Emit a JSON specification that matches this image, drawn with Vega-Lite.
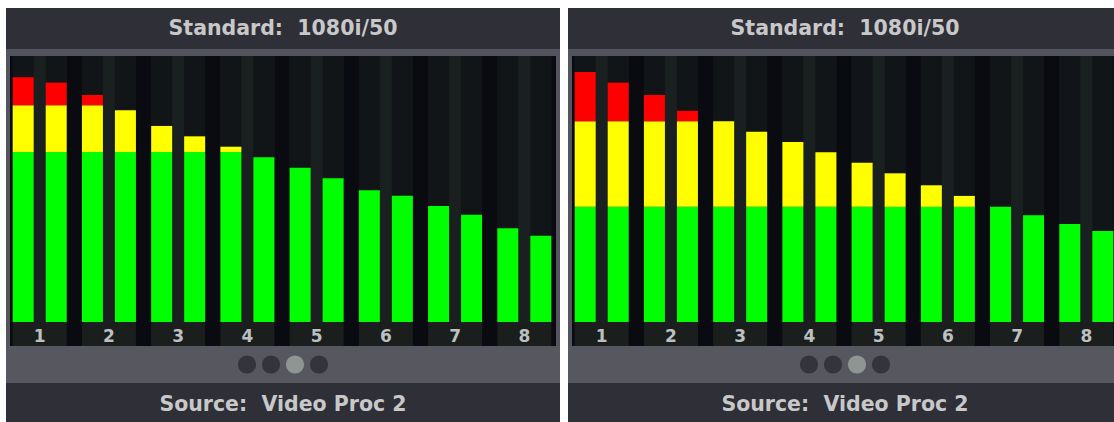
{
  "$schema": "https://vega.github.io/schema/vega-lite/v6.json",
  "background": "#ffffff",
  "padding": {"left": 6, "top": 8, "right": 0, "bottom": 0},
  "config": {"view": {"stroke": null}},
  "datasets": {
    "chans": [{"ch":1},{"ch":2},{"ch":3},{"ch":4},{"ch":5},{"ch":6},{"ch":7},{"ch":8}],
    "cols": [
      {"ch":1,"side":"L"},{"ch":1,"side":"R"},{"ch":2,"side":"L"},{"ch":2,"side":"R"},
      {"ch":3,"side":"L"},{"ch":3,"side":"R"},{"ch":4,"side":"L"},{"ch":4,"side":"R"},
      {"ch":5,"side":"L"},{"ch":5,"side":"R"},{"ch":6,"side":"L"},{"ch":6,"side":"R"},
      {"ch":7,"side":"L"},{"ch":7,"side":"R"},{"ch":8,"side":"L"},{"ch":8,"side":"R"}
    ],
    "segA": [
      {"ch":1,"side":"L","zone":"green","from":0,"to":63.9},{"ch":1,"side":"L","zone":"yellow","from":63.9,"to":81.5},{"ch":1,"side":"L","zone":"red","from":81.5,"to":92.0},
      {"ch":1,"side":"R","zone":"green","from":0,"to":63.9},{"ch":1,"side":"R","zone":"yellow","from":63.9,"to":81.5},{"ch":1,"side":"R","zone":"red","from":81.5,"to":90.0},
      {"ch":2,"side":"L","zone":"green","from":0,"to":63.9},{"ch":2,"side":"L","zone":"yellow","from":63.9,"to":81.5},{"ch":2,"side":"L","zone":"red","from":81.5,"to":85.3},
      {"ch":2,"side":"R","zone":"green","from":0,"to":63.9},{"ch":2,"side":"R","zone":"yellow","from":63.9,"to":79.6},
      {"ch":3,"side":"L","zone":"green","from":0,"to":63.9},{"ch":3,"side":"L","zone":"yellow","from":63.9,"to":73.7},
      {"ch":3,"side":"R","zone":"green","from":0,"to":63.9},{"ch":3,"side":"R","zone":"yellow","from":63.9,"to":69.8},
      {"ch":4,"side":"L","zone":"green","from":0,"to":63.9},{"ch":4,"side":"L","zone":"yellow","from":63.9,"to":65.9},
      {"ch":4,"side":"R","zone":"green","from":0,"to":61.9},
      {"ch":5,"side":"L","zone":"green","from":0,"to":58.0},
      {"ch":5,"side":"R","zone":"green","from":0,"to":54.0},
      {"ch":6,"side":"L","zone":"green","from":0,"to":49.5},
      {"ch":6,"side":"R","zone":"green","from":0,"to":47.5},
      {"ch":7,"side":"L","zone":"green","from":0,"to":43.6},
      {"ch":7,"side":"R","zone":"green","from":0,"to":40.3},
      {"ch":8,"side":"L","zone":"green","from":0,"to":35.2},
      {"ch":8,"side":"R","zone":"green","from":0,"to":32.4}
    ],
    "segB": [
      {"ch":1,"side":"L","zone":"green","from":0,"to":43.3},{"ch":1,"side":"L","zone":"yellow","from":43.3,"to":75.5},{"ch":1,"side":"L","zone":"red","from":75.5,"to":94.0},
      {"ch":1,"side":"R","zone":"green","from":0,"to":43.3},{"ch":1,"side":"R","zone":"yellow","from":43.3,"to":75.5},{"ch":1,"side":"R","zone":"red","from":75.5,"to":90.0},
      {"ch":2,"side":"L","zone":"green","from":0,"to":43.3},{"ch":2,"side":"L","zone":"yellow","from":43.3,"to":75.5},{"ch":2,"side":"L","zone":"red","from":75.5,"to":85.3},
      {"ch":2,"side":"R","zone":"green","from":0,"to":43.3},{"ch":2,"side":"R","zone":"yellow","from":43.3,"to":75.5},{"ch":2,"side":"R","zone":"red","from":75.5,"to":79.4},
      {"ch":3,"side":"L","zone":"green","from":0,"to":43.3},{"ch":3,"side":"L","zone":"yellow","from":43.3,"to":75.5},
      {"ch":3,"side":"R","zone":"green","from":0,"to":43.3},{"ch":3,"side":"R","zone":"yellow","from":43.3,"to":71.5},
      {"ch":4,"side":"L","zone":"green","from":0,"to":43.3},{"ch":4,"side":"L","zone":"yellow","from":43.3,"to":67.7},
      {"ch":4,"side":"R","zone":"green","from":0,"to":43.3},{"ch":4,"side":"R","zone":"yellow","from":43.3,"to":63.8},
      {"ch":5,"side":"L","zone":"green","from":0,"to":43.3},{"ch":5,"side":"L","zone":"yellow","from":43.3,"to":59.9},
      {"ch":5,"side":"R","zone":"green","from":0,"to":43.3},{"ch":5,"side":"R","zone":"yellow","from":43.3,"to":55.9},
      {"ch":6,"side":"L","zone":"green","from":0,"to":43.3},{"ch":6,"side":"L","zone":"yellow","from":43.3,"to":51.4},
      {"ch":6,"side":"R","zone":"green","from":0,"to":43.3},{"ch":6,"side":"R","zone":"yellow","from":43.3,"to":47.4},
      {"ch":7,"side":"L","zone":"green","from":0,"to":43.3},
      {"ch":7,"side":"R","zone":"green","from":0,"to":40.1},
      {"ch":8,"side":"L","zone":"green","from":0,"to":36.8},
      {"ch":8,"side":"R","zone":"green","from":0,"to":34.2}
    ],
    "dots": [{"i":1,"state":"off"},{"i":2,"state":"off"},{"i":3,"state":"on"},{"i":4,"state":"off"}],
    "head": [{"t":"Standard:\u00a0\u00a01080i/50"}],
    "foot": [{"t":"Source:\u00a0\u00a0Video Proc 2"}],
    "blank": []
  },
  "hconcat": [
    {
      "vconcat": [
        {"width":554,"height":41,"view":{"fill":"#2f2f38"},"data":{"name":"head"},
         "mark":{"type":"text","font":"DejaVu Sans","fontWeight":"bold","fontSize":20.5,"color":"#c8c8c8","baseline":"middle","align":"center"},
         "encoding":{"text":{"field":"t"}}},
        {"width":554,"height":7,"view":{"fill":"#54545e"},"data":{"name":"blank"},"mark":{"type":"point"},"encoding":{}},
        {
          "hconcat": [
            {"width":4,"height":290,"view":{"fill":"#54545e"},"data":{"name":"blank"},"mark":{"type":"point"},"encoding":{}},
            {
              "vconcat": [
                {
                  "width":546,"height":266,"view":{"fill":"#0a0b11"},
                  "layer": [
                    {"data":{"name":"chans"},"mark":{"type":"bar","color":"#1a201f"},
                     "encoding":{
                       "x":{"field":"ch","type":"ordinal","axis":null,"scale":{"paddingInner":0.22,"paddingOuter":0.0534,"align":0.365}},
                       "y":{"datum":0,"type":"quantitative","axis":null,"scale":{"domain":[0,100],"nice":false}},
                       "y2":{"datum":100}}},
                    {"data":{"name":"cols"},"mark":{"type":"bar","color":"#121518"},
                     "encoding":{
                       "x":{"field":"ch","type":"ordinal","axis":null,"scale":{"paddingInner":0.22,"paddingOuter":0.0534,"align":0.365}},
                       "xOffset":{"field":"side","type":"nominal","scale":{"paddingInner":0.3636,"paddingOuter":0}},
                       "y":{"datum":0,"type":"quantitative","axis":null,"scale":{"domain":[0,100],"nice":false}},
                       "y2":{"datum":100}}},
                    {"data":{"name":"segA"},"mark":{"type":"bar"},
                     "encoding":{
                       "x":{"field":"ch","type":"ordinal","axis":null,"scale":{"paddingInner":0.22,"paddingOuter":0.0534,"align":0.365}},
                       "xOffset":{"field":"side","type":"nominal","scale":{"paddingInner":0.3636,"paddingOuter":0}},
                       "y":{"field":"from","type":"quantitative","axis":null,"scale":{"domain":[0,100],"nice":false}},
                       "y2":{"field":"to"},
                       "color":{"field":"zone","type":"nominal","legend":null,"scale":{"domain":["green","yellow","red","off","on"],"range":["#00ff00","#ffff00","#ff0000","#34343c","#8e9694"]}}}}
                  ]
                },
                {
                  "width":546,"height":24,"view":{"fill":"#0a0b11"},
                  "layer": [
                    {"data":{"name":"chans"},"mark":{"type":"bar","color":"#1a1f1e"},
                     "encoding":{
                       "x":{"field":"ch","type":"ordinal","axis":null,"scale":{"paddingInner":0.22,"paddingOuter":0.0534,"align":0.365}},
                       "y":{"datum":0,"type":"quantitative","axis":null,"scale":{"domain":[0,1],"nice":false}},
                       "y2":{"datum":1}}},
                    {"data":{"name":"chans"},"mark":{"type":"text","font":"DejaVu Sans","fontWeight":"bold","fontSize":17,"color":"#bcc0c0","baseline":"middle","dy":3},
                     "encoding":{
                       "x":{"field":"ch","type":"ordinal","axis":null,"scale":{"paddingInner":0.22,"paddingOuter":0.0534,"align":0.365}},
                       "text":{"field":"ch","type":"ordinal"}}}
                  ]
                }
              ],
              "spacing":0
            },
            {"width":4,"height":290,"view":{"fill":"#54545e"},"data":{"name":"blank"},"mark":{"type":"point"},"encoding":{}}
          ],
          "spacing":0
        },
        {"width":554,"height":37,"view":{"fill":"#57575f"},"data":{"name":"dots"},
         "mark":{"type":"point","filled":true,"size":330,"opacity":1},
         "encoding":{
           "x":{"field":"i","type":"quantitative","axis":null,"scale":{"domain":[-9.042,14.042],"nice":false,"zero":false}},
           "color":{"field":"state","type":"nominal","legend":null,"scale":{"domain":["green","yellow","red","off","on"],"range":["#00ff00","#ffff00","#ff0000","#34343c","#8e9694"]}}}},
        {"width":554,"height":39,"view":{"fill":"#2f2f38"},"data":{"name":"foot"},
         "mark":{"type":"text","font":"DejaVu Sans","fontWeight":"bold","fontSize":20.5,"color":"#c8c8c8","baseline":"middle","align":"center","dy":2},
         "encoding":{"text":{"field":"t"}}}
      ],
      "spacing":0
    },
    {
      "vconcat": [
        {"width":546,"height":41,"view":{"fill":"#2f2f38"},"data":{"name":"head"},
         "mark":{"type":"text","font":"DejaVu Sans","fontWeight":"bold","fontSize":20.5,"color":"#c8c8c8","baseline":"middle","align":"center","dx":4},
         "encoding":{"text":{"field":"t"}}},
        {"width":546,"height":7,"view":{"fill":"#54545e"},"data":{"name":"blank"},"mark":{"type":"point"},"encoding":{}},
        {
          "hconcat": [
            {"width":4,"height":290,"view":{"fill":"#54545e"},"data":{"name":"blank"},"mark":{"type":"point"},"encoding":{}},
            {
              "vconcat": [
                {
                  "width":542,"height":266,"view":{"fill":"#0a0b11"},
                  "layer": [
                    {"data":{"name":"chans"},"mark":{"type":"bar","color":"#1a201f","clip":true},
                     "encoding":{
                       "x":{"field":"ch","type":"ordinal","axis":null,"scale":{"paddingInner":0.22,"paddingOuter":0.0534,"align":0.365,"range":[0,546]}},
                       "y":{"datum":0,"type":"quantitative","axis":null,"scale":{"domain":[0,100],"nice":false}},
                       "y2":{"datum":100}}},
                    {"data":{"name":"cols"},"mark":{"type":"bar","color":"#121518","clip":true},
                     "encoding":{
                       "x":{"field":"ch","type":"ordinal","axis":null,"scale":{"paddingInner":0.22,"paddingOuter":0.0534,"align":0.365,"range":[0,546]}},
                       "xOffset":{"field":"side","type":"nominal","scale":{"paddingInner":0.3636,"paddingOuter":0}},
                       "y":{"datum":0,"type":"quantitative","axis":null,"scale":{"domain":[0,100],"nice":false}},
                       "y2":{"datum":100}}},
                    {"data":{"name":"segB"},"mark":{"type":"bar","clip":true},
                     "encoding":{
                       "x":{"field":"ch","type":"ordinal","axis":null,"scale":{"paddingInner":0.22,"paddingOuter":0.0534,"align":0.365,"range":[0,546]}},
                       "xOffset":{"field":"side","type":"nominal","scale":{"paddingInner":0.3636,"paddingOuter":0}},
                       "y":{"field":"from","type":"quantitative","axis":null,"scale":{"domain":[0,100],"nice":false}},
                       "y2":{"field":"to"},
                       "color":{"field":"zone","type":"nominal","legend":null,"scale":{"domain":["green","yellow","red","off","on"],"range":["#00ff00","#ffff00","#ff0000","#34343c","#8e9694"]}}}}
                  ]
                },
                {
                  "width":542,"height":24,"view":{"fill":"#0a0b11"},
                  "layer": [
                    {"data":{"name":"chans"},"mark":{"type":"bar","color":"#1a1f1e","clip":true},
                     "encoding":{
                       "x":{"field":"ch","type":"ordinal","axis":null,"scale":{"paddingInner":0.22,"paddingOuter":0.0534,"align":0.365,"range":[0,546]}},
                       "y":{"datum":0,"type":"quantitative","axis":null,"scale":{"domain":[0,1],"nice":false}},
                       "y2":{"datum":1}}},
                    {"data":{"name":"chans"},"mark":{"type":"text","font":"DejaVu Sans","fontWeight":"bold","fontSize":17,"color":"#bcc0c0","baseline":"middle","dy":3,"clip":true},
                     "encoding":{
                       "x":{"field":"ch","type":"ordinal","axis":null,"scale":{"paddingInner":0.22,"paddingOuter":0.0534,"align":0.365,"range":[0,546]}},
                       "text":{"field":"ch","type":"ordinal"}}}
                  ]
                }
              ],
              "spacing":0
            }
          ],
          "spacing":0
        },
        {"width":546,"height":37,"view":{"fill":"#57575f"},"data":{"name":"dots"},
         "mark":{"type":"point","filled":true,"size":330,"opacity":1},
         "encoding":{
           "x":{"field":"i","type":"quantitative","axis":null,"scale":{"domain":[-9.042,13.708],"nice":false,"zero":false}},
           "color":{"field":"state","type":"nominal","legend":null,"scale":{"domain":["green","yellow","red","off","on"],"range":["#00ff00","#ffff00","#ff0000","#34343c","#8e9694"]}}}},
        {"width":546,"height":39,"view":{"fill":"#2f2f38"},"data":{"name":"foot"},
         "mark":{"type":"text","font":"DejaVu Sans","fontWeight":"bold","fontSize":20.5,"color":"#c8c8c8","baseline":"middle","align":"center","dy":2,"dx":4},
         "encoding":{"text":{"field":"t"}}}
      ],
      "spacing":0
    }
  ],
  "spacing": 8
}
